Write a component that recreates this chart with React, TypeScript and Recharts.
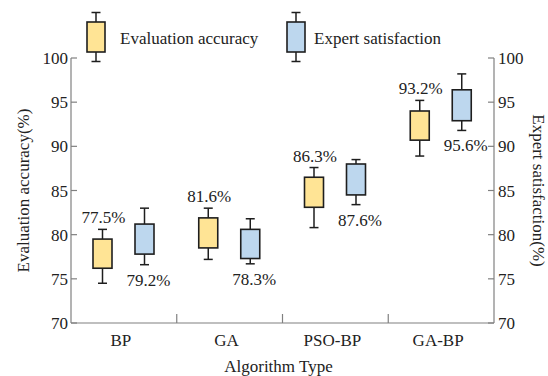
import React from 'react';
import { ComposedChart, Bar, XAxis, YAxis, Legend, Label } from 'recharts';

document.body.style.margin = '0';

const categories = ['BP', 'GA', 'PSO-BP', 'GA-BP'];

// Evaluation accuracy (left axis)
const accMin = [74.5, 77.2, 80.8, 88.9];
const accQ1 = [76.2, 78.5, 83.1, 90.7];
const accQ3 = [79.5, 81.9, 86.5, 94.0];
const accMax = [80.6, 83.0, 87.6, 95.2];
const accLabels = ['77.5%', '81.6%', '86.3%', '93.2%'];

// Expert satisfaction (right axis)
const satMin = [76.6, 76.7, 83.4, 91.8];
const satQ1 = [77.8, 77.3, 84.5, 92.9];
const satQ3 = [81.2, 80.6, 88.0, 96.4];
const satMax = [83.0, 81.8, 88.5, 98.2];
const satLabels = ['79.2%', '78.3%', '87.6%', '95.6%'];

const yTicks = [70, 75, 80, 85, 90, 95, 100];

const data = categories.map((name, i) => ({
  name,
  accMin: accMin[i],
  accQ1: accQ1[i],
  accQ3: accQ3[i],
  accMax: accMax[i],
  accLabel: accLabels[i],
  satMin: satMin[i],
  satQ1: satQ1[i],
  satQ3: satQ3[i],
  satMax: satMax[i],
  satLabel: satLabels[i],
}));

const FONT = '"Liberation Serif", "Times New Roman", serif';
const TEXT = '#222';
const AXIS = '#808080';
const YELLOW = '#FFE495';
const BLUE = '#BDD7EE';
const EDGE = '#1e1e1e';
const txt = { fontFamily: FONT, fontSize: 17, fill: TEXT };

function makeBox(prefix: 'acc' | 'sat', labelAbove: boolean) {
  return (props: any) => {
    const { x, y, width, height, payload } = props;
    const q1 = payload[prefix + 'Q1'];
    const q3 = payload[prefix + 'Q3'];
    const lo = payload[prefix + 'Min'];
    const hi = payload[prefix + 'Max'];
    const k = height / (q3 - q1);
    const cx = x + width / 2;
    const yTop = y - (hi - q3) * k;
    const yBot = y + height + (q1 - lo) * k;
    const cap = 4.5;
    const fill = prefix === 'acc' ? YELLOW : BLUE;
    return (
      <g>
        <line x1={cx} x2={cx} y1={yTop} y2={y} stroke={EDGE} strokeWidth={1.5} />
        <line x1={cx} x2={cx} y1={y + height} y2={yBot} stroke={EDGE} strokeWidth={1.5} />
        <line x1={cx - cap} x2={cx + cap} y1={yTop} y2={yTop} stroke={EDGE} strokeWidth={1.5} />
        <line x1={cx - cap} x2={cx + cap} y1={yBot} y2={yBot} stroke={EDGE} strokeWidth={1.5} />
        <rect x={x} y={y} width={width} height={height} fill={fill} stroke={EDGE} strokeWidth={1.6} />
        {labelAbove ? (
          <text x={cx + 1} y={yTop - 6} textAnchor="middle" style={txt}>
            {payload[prefix + 'Label']}
          </text>
        ) : (
          <text x={cx + 4} y={yBot + 21} textAnchor="middle" style={txt}>
            {payload[prefix + 'Label']}
          </text>
        )}
      </g>
    );
  };
}

function LeftTick({ x, y, payload }: any) {
  const ax = x + 3;
  return (
    <g>
      <line x1={ax} x2={ax + 6} y1={y} y2={y} stroke={AXIS} strokeWidth={1.2} />
      <text x={x} y={y} dy={6} textAnchor="end" style={txt}>
        {payload.value}
      </text>
    </g>
  );
}

function RightTick({ x, y, payload }: any) {
  const ax = x - 3;
  return (
    <g>
      <line x1={ax - 6} x2={ax} y1={y} y2={y} stroke={AXIS} strokeWidth={1.2} />
      <text x={x + 1} y={y} dy={6} textAnchor="start" style={txt}>
        {payload.value}
      </text>
    </g>
  );
}

function BottomTick({ x, y, payload, index }: any) {
  const half = payload && payload.offset ? payload.offset : 52.9;
  return (
    <g>
      {index < categories.length - 1 && (
        <line x1={x + half} x2={x + half} y1={y} y2={y - 9} stroke={AXIS} strokeWidth={1.2} />
      )}
      <text x={x - 3} y={y + 23} textAnchor="middle" style={txt}>
        {payload.value}
      </text>
    </g>
  );
}

function LegendIcon({ x, fill }: { x: number; fill: string }) {
  const cx = x + 9;
  return (
    <g>
      <line x1={cx} x2={cx} y1={12.5} y2={61.5} stroke={EDGE} strokeWidth={1.5} />
      <line x1={cx - 4.5} x2={cx + 4.5} y1={12.5} y2={12.5} stroke={EDGE} strokeWidth={1.5} />
      <line x1={cx - 4.5} x2={cx + 4.5} y1={61.5} y2={61.5} stroke={EDGE} strokeWidth={1.5} />
      <rect x={x} y={22} width={18} height={30} fill={fill} stroke={EDGE} strokeWidth={1.6} />
    </g>
  );
}

function LegendContent() {
  return (
    <svg width={548} height={50} style={{ overflow: 'visible', display: 'block' }}>
      <LegendIcon x={87} fill={YELLOW} />
      <text x={120} y={43.5} style={txt}>
        Evaluation accuracy
      </text>
      <LegendIcon x={287} fill={BLUE} />
      <text x={314} y={43.5} style={txt}>
        Expert satisfaction
      </text>
    </svg>
  );
}

export default function App() {
  return (
    <div style={{ width: 548, height: 376, background: '#fff', fontFamily: FONT }}>
      <ComposedChart
        width={548}
        height={376}
        data={data}
        margin={{ top: 8, right: 0, bottom: 0, left: 0 }}
        barGap={23}
        style={{ fontFamily: FONT }}
      >
        <Legend
          verticalAlign="top"
          content={<LegendContent />}
          wrapperStyle={{ top: 0, left: 0, width: 548, height: 50 }}
        />
        <XAxis
          dataKey="name"
          height={53}
          tickSize={0}
          tickMargin={0}
          tickLine={false}
          tick={<BottomTick />}
          axisLine={{ stroke: AXIS, strokeWidth: 1.2 }}
          interval={0}
        >
          <Label
            content={({ viewBox }: any) => (
              <text
                x={viewBox.x + viewBox.width / 2 - 4}
                y={viewBox.y + 49}
                textAnchor="middle"
                style={txt}
              >
                Algorithm Type
              </text>
            )}
          />
        </XAxis>
        <YAxis
          yAxisId="left"
          orientation="left"
          width={71}
          domain={[70, 100]}
          ticks={yTicks}
          tickSize={0}
          tickMargin={3}
          tickLine={false}
          tick={<LeftTick />}
          axisLine={{ stroke: AXIS, strokeWidth: 1.2 }}
          interval={0}
        >
          <Label
            content={({ viewBox }: any) => {
              const lx = viewBox.x + 23;
              const ly = viewBox.y + viewBox.height / 2;
              return (
                <text
                  x={lx}
                  y={ly}
                  transform={`rotate(-90 ${lx} ${ly})`}
                  textAnchor="middle"
                  dominantBaseline="central"
                  style={txt}
                >
                  Evaluation accuracy(%)
                </text>
              );
            }}
          />
        </YAxis>
        <YAxis
          yAxisId="right"
          orientation="right"
          width={54}
          domain={[70, 100]}
          ticks={yTicks}
          tickSize={0}
          tickMargin={3}
          tickLine={false}
          tick={<RightTick />}
          axisLine={{ stroke: AXIS, strokeWidth: 1.2 }}
          interval={0}
        >
          <Label
            content={({ viewBox }: any) => {
              const lx = viewBox.x + 44;
              const ly = viewBox.y + viewBox.height / 2;
              return (
                <text
                  x={lx}
                  y={ly}
                  transform={`rotate(90 ${lx} ${ly})`}
                  textAnchor="middle"
                  dominantBaseline="central"
                  style={txt}
                >
                  Expert satisfaction(%)
                </text>
              );
            }}
          />
        </YAxis>
        <Bar
          yAxisId="left"
          dataKey={(d: any) => [d.accQ1, d.accQ3]}
          name="Evaluation accuracy"
          barSize={19}
          shape={makeBox('acc', true)}
          isAnimationActive={false}
        />
        <Bar
          yAxisId="right"
          dataKey={(d: any) => [d.satQ1, d.satQ3]}
          name="Expert satisfaction"
          barSize={19}
          shape={makeBox('sat', false)}
          isAnimationActive={false}
        />
      </ComposedChart>
    </div>
  );
}
